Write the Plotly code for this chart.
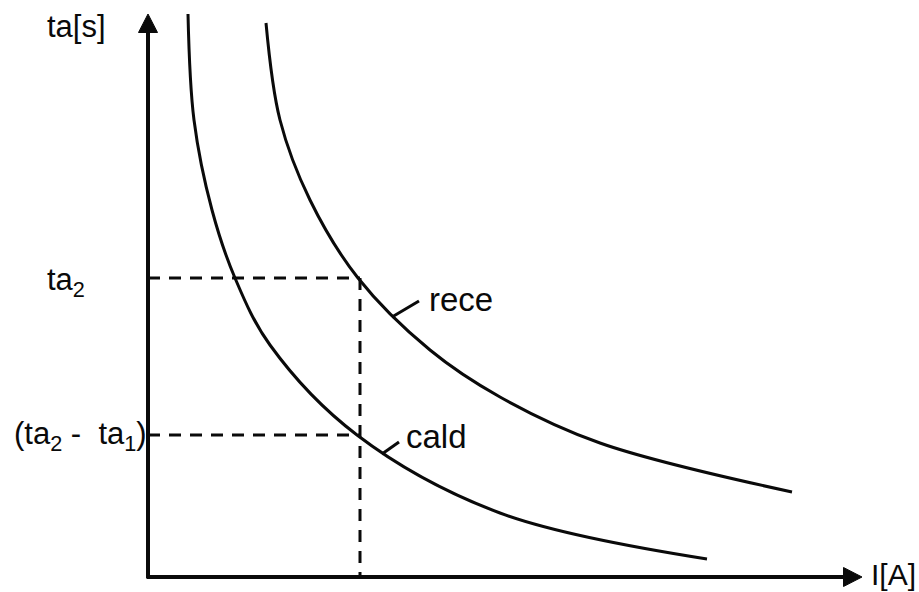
import plotly.graph_objects as go

# Current I (horizontal) and trip time ta (vertical), in arbitrary units
cald_I = [4.0, 4.6, 6.4, 8.7, 12.2, 20.9, 35.2, 55.9]
cald_t = [56.3, 45.7, 36.7, 29.9, 23.2, 14.2, 6.4, 1.8]

rece_I = [11.8, 13.2, 16.2, 21.0, 28.2, 35.2, 45.2, 64.4]
rece_t = [55.4, 45.7, 37.7, 29.9, 22.7, 18.0, 13.4, 8.5]

# Reference levels
I1 = 21.2          # current of the vertical dashed guide
TA2 = 29.9         # ta2
TA_DIFF = 14.2     # ta2 - ta1

# Axis extents
Y_TOP = 56.3
X_END = 71.4
HEAD_LEN = 1.85
HEAD_HALF = 0.95

INK = "#0a0a0a"
FONT = "Liberation Sans, Arial, sans-serif"

fig = go.Figure()

# Curves
for xs, ys in ((cald_I, cald_t), (rece_I, rece_t)):
    fig.add_trace(go.Scatter(x=xs, y=ys, mode="lines",
                             line=dict(color=INK, width=3, shape="spline", smoothing=1.0),
                             hoverinfo="skip", showlegend=False))

# Dashed guides
dash = "12px,9px"
fig.add_trace(go.Scatter(x=[0, I1], y=[TA2, TA2], mode="lines", line=dict(color=INK, width=3, dash=dash),
                         hoverinfo="skip", showlegend=False))
fig.add_trace(go.Scatter(x=[0, I1], y=[TA_DIFF, TA_DIFF], mode="lines", line=dict(color=INK, width=3, dash=dash),
                         hoverinfo="skip", showlegend=False))
fig.add_trace(go.Scatter(x=[I1, I1], y=[TA2, 0], mode="lines", line=dict(color=INK, width=3, dash=dash),
                         hoverinfo="skip", showlegend=False))

# Axes with arrowheads
fig.add_trace(go.Scatter(x=[0, 0], y=[-0.1, Y_TOP - HEAD_LEN], mode="lines", line=dict(color=INK, width=4),
                         hoverinfo="skip", showlegend=False))
fig.add_trace(go.Scatter(x=[-0.15, X_END - HEAD_LEN], y=[0, 0], mode="lines", line=dict(color=INK, width=4),
                         hoverinfo="skip", showlegend=False))
fig.add_trace(go.Scatter(x=[-HEAD_HALF, HEAD_HALF, 0, -HEAD_HALF],
                         y=[Y_TOP - HEAD_LEN, Y_TOP - HEAD_LEN, Y_TOP, Y_TOP - HEAD_LEN],
                         mode="lines", fill="toself", fillcolor=INK, line=dict(color=INK, width=1),
                         hoverinfo="skip", showlegend=False))
fig.add_trace(go.Scatter(x=[X_END - HEAD_LEN, X_END - HEAD_LEN, X_END, X_END - HEAD_LEN],
                         y=[-HEAD_HALF, HEAD_HALF, 0, -HEAD_HALF],
                         mode="lines", fill="toself", fillcolor=INK, line=dict(color=INK, width=1),
                         hoverinfo="skip", showlegend=False))

# Leader lines to the curve names
fig.add_shape(type="line", x0=24.4, y0=26.0, x1=27.1, y1=27.6, line=dict(color=INK, width=3))
fig.add_shape(type="line", x0=23.4, y0=12.3, x1=25.1, y1=13.5, line=dict(color=INK, width=3))

def label(text, x, y, xanchor="left", size=31):
    fig.add_annotation(x=x, y=y, text=text, showarrow=False, xanchor=xanchor, yanchor="middle",
                       font=dict(family=FONT, size=size, color=INK))

label("ta[s]", -10.3, 55.1)
label("ta<sub>2</sub>", -10.3, TA2 - 0.4)
label("(ta<sub>2</sub> -  ta<sub>1</sub>)", -13.6, TA_DIFF - 0.1)
label("rece", 27.9, 27.8, size=33)
label("cald", 25.6, 14.1, size=33)
label("I[A]", 77.0, 0.3, xanchor="right", size=30)

fig.update_layout(
    width=919, height=592,
    margin=dict(l=0, r=0, t=0, b=0),
    paper_bgcolor="white", plot_bgcolor="white",
    xaxis=dict(range=[-14.8, 77.1], visible=False, fixedrange=True),
    yaxis=dict(range=[-1.5, 57.7], visible=False, fixedrange=True),
)

fig.write_html("out.html")
